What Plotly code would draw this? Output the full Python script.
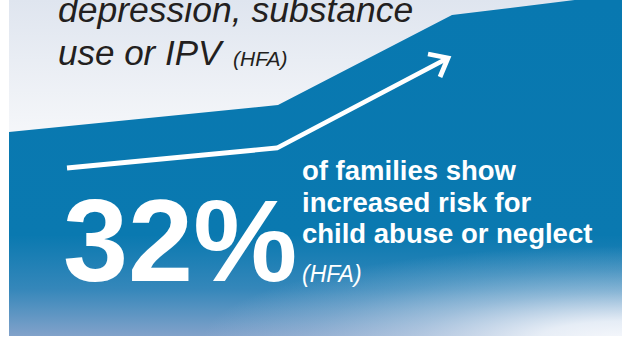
import plotly.graph_objects as go

# Panel and "trend" shape (pixel-space coordinates of the infographic)
panel_x = [9, 640, 640, 9]
panel_y = [0, 0, 336, 336]
trend_x = [9, 278, 452, 640, 640, 9]
trend_y = [132, 105, 15, -8, 336, 336]
arrow_x = [67, 277, 448, None, 428, 448, 440]
arrow_y = [168, 148, 58, None, 54, 58, 77]
# glow area: visible rectangle plus a zero-area spike that centres the radial gradient
glow_x = [202, 1042, 1042, 1042, 1042, 202]
glow_y = [246, 246, 336, 434, 336, 336]

headline_lines = ["depression, substance", "use or IPV"]
stat_value = "32%"
stat_lines = ["of families show", "increased risk for", "child abuse or neglect"]
source = "(HFA)"

BLUE = "#0878b0"
DARK = "#231f20"

fig = go.Figure()

fig.add_trace(go.Scatter(
    x=panel_x, y=panel_y, mode="none", fill="toself",
    fillgradient=dict(type="vertical", start=0, stop=336,
                      colorscale=[[0, "#dfe5ef"], [0.45, "#f8f9fb"], [1, "#ffffff"]]),
    hoverinfo="skip"))

fig.add_trace(go.Scatter(
    x=trend_x, y=trend_y, mode="none", fill="toself",
    fillgradient=dict(type="vertical", start=0, stop=336,
                      colorscale=[[0, BLUE], [0.7, "#0a79b0"], [0.86, "#3587ba"], [1, "#82a2ca"]]),
    hoverinfo="skip"))

fig.add_trace(go.Scatter(
    x=glow_x, y=glow_y, mode="none", fill="toself",
    fillgradient=dict(type="radial",
                      colorscale=[[0, "rgba(246,248,252,1)"], [0.2, "rgba(240,244,250,0.92)"],
                                  [0.5, "rgba(222,231,243,0.5)"], [0.75, "rgba(210,222,238,0.22)"],
                                  [1, "rgba(200,215,235,0)"]]),
    hoverinfo="skip"))

fig.add_trace(go.Scatter(
    x=arrow_x, y=arrow_y, mode="lines",
    line=dict(color="white", width=4.8), hoverinfo="skip"))

ann = []
left_font = "Liberation Sans, Arial, Helvetica, sans-serif"
ann.append(dict(x=56, y=10, text="<i>" + headline_lines[0] + "</i>", xanchor="left", yanchor="middle",
                font=dict(family=left_font, size=35.5, color=DARK)))
ann.append(dict(x=56, y=52, text="<i>" + headline_lines[1] + "</i>", xanchor="left", yanchor="middle",
                font=dict(family=left_font, size=35, color=DARK)))
ann.append(dict(x=231, y=58, text="<i>" + source + "</i>", xanchor="left", yanchor="middle",
                font=dict(family=left_font, size=21, color=DARK)))

ann.append(dict(x=61, y=240, text="<b>" + stat_value + "</b>", xanchor="left", yanchor="middle",
                font=dict(family="Liberation Sans Narrow, Arial Narrow, Liberation Sans", size=117,
                          color="white")))
for i, (line, yy) in enumerate(zip(stat_lines, [170.5, 202.5, 233.5])):
    ann.append(dict(x=300, y=yy, text="<b>" + line + "</b>", xanchor="left", yanchor="middle",
                    font=dict(family=left_font, size=27.5, color="white")))
ann.append(dict(x=300, y=274, text="<i>" + source + "</i>", xanchor="left", yanchor="middle",
                font=dict(family=left_font, size=23, color="white")))

for a in ann:
    a.update(xref="x", yref="y", showarrow=False)

fig.update_layout(
    width=622, height=353, margin=dict(l=0, r=0, t=0, b=0),
    paper_bgcolor="white", plot_bgcolor="white",
    showlegend=False, hovermode=False,
    xaxis=dict(range=[0, 622], visible=False, fixedrange=True),
    yaxis=dict(range=[353, 0], visible=False, fixedrange=True),
    annotations=ann,
)

fig.write_html("out.html", config={"displayModeBar": False})
